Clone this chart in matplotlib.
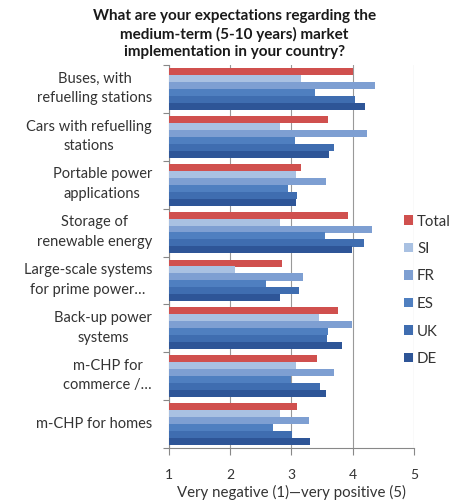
import numpy as np
import matplotlib
matplotlib.use("Agg")
import matplotlib.pyplot as plt
from matplotlib.transforms import blended_transform_factory

plt.rcParams['font.family'] = ['Lato', 'DejaVu Sans']

categories = [
    "Buses, with\nrefuelling stations",
    "Cars with refuelling\nstations",
    "Portable power\napplications",
    "Storage of\nrenewable energy",
    "Large-scale systems\nfor prime power…",
    "Back-up power\nsystems",
    "m-CHP for\ncommerce /…",
    "m-CHP for homes",
]
series = ["Total", "SI", "FR", "ES", "UK", "DE"]
total = [4.00, 3.60, 3.15, 3.93, 2.85, 3.76, 3.42, 3.09]
si = [3.16, 2.81, 3.07, 2.81, 2.07, 3.45, 3.08, 2.81]
fr = [4.37, 4.23, 3.57, 4.31, 3.18, 3.99, 3.70, 3.29]
es = [3.39, 3.06, 2.94, 3.55, 2.58, 3.60, 2.99, 2.70]
uk = [4.03, 3.70, 3.09, 4.18, 3.13, 3.58, 3.46, 3.00]
de = [4.20, 3.62, 3.08, 3.98, 2.82, 3.83, 3.57, 3.31]
values = [total, si, fr, es, uk, de]
colors = ["#D0504E", "#A9C1E2", "#7E9FD2", "#4F7FC0", "#3F6DB0", "#2E5597"]

fig = plt.figure(figsize=(4.59, 5.01), dpi=100)
ax = fig.add_axes([169 / 459, 1 - 448 / 501, (414 - 169) / 459, (448 - 65) / 501])

n = len(categories)
bh = 0.145
for i, (name, vals, c) in enumerate(zip(series, values, colors)):
    y = np.arange(n) + 0.5 - 2.5 * bh + i * bh
    ax.barh(y, np.array(vals) - 1, left=1, height=bh * 1.02, color=c, label=name, zorder=3)

ax.set_xlim(1, 5)
ax.set_ylim(n, 0)
ax.set_xticks([1, 2, 3, 4, 5])
ax.set_xticklabels(["1", "2", "3", "4", "5"], fontsize=10, color="#333333")
ax.set_yticks(np.arange(n + 1))
ax.set_yticklabels([])
ax.tick_params(axis='y', length=4, color="#888888")
ax.tick_params(axis='x', length=5, color="#888888", pad=10)
ax.grid(axis='x', color="#999999", linewidth=0.8, zorder=0)
for s in ["top", "right"]:
    ax.spines[s].set_visible(False)
for s in ["left", "bottom"]:
    ax.spines[s].set_color("#888888")

# category labels: right edge at fixed figure x, centred lines
lab_tr = blended_transform_factory(fig.transFigure, ax.transData)
for k, lab in enumerate(categories):
    ax.text(152 / 459, k + 0.49, lab, transform=lab_tr,
            ha='right', va='center', multialignment='center', fontsize=10.5, color="#333333", linespacing=1.5)

ax.set_xlabel("Very negative (1)—very positive (5)", fontsize=10.8, color="#333333", labelpad=3)

fig.text(0.51, 0.982, "What are your expectations regarding the\nmedium-term (5-10 years) market\nimplementation in your country?",
         ha='center', va='top', fontsize=11, fontweight='bold', linespacing=1.3, color="#1a1a1a")

leg = ax.legend(loc='upper left', bbox_to_anchor=(396 / 459, 1 - 207 / 501), bbox_transform=fig.transFigure,
                frameon=False, fontsize=10.8, handlelength=0.6, handleheight=0.6, handletextpad=0.3,
                labelspacing=0.9, borderpad=0)
for t in leg.get_texts():
    t.set_color("#333333")

fig.savefig("out.png", dpi=100)
